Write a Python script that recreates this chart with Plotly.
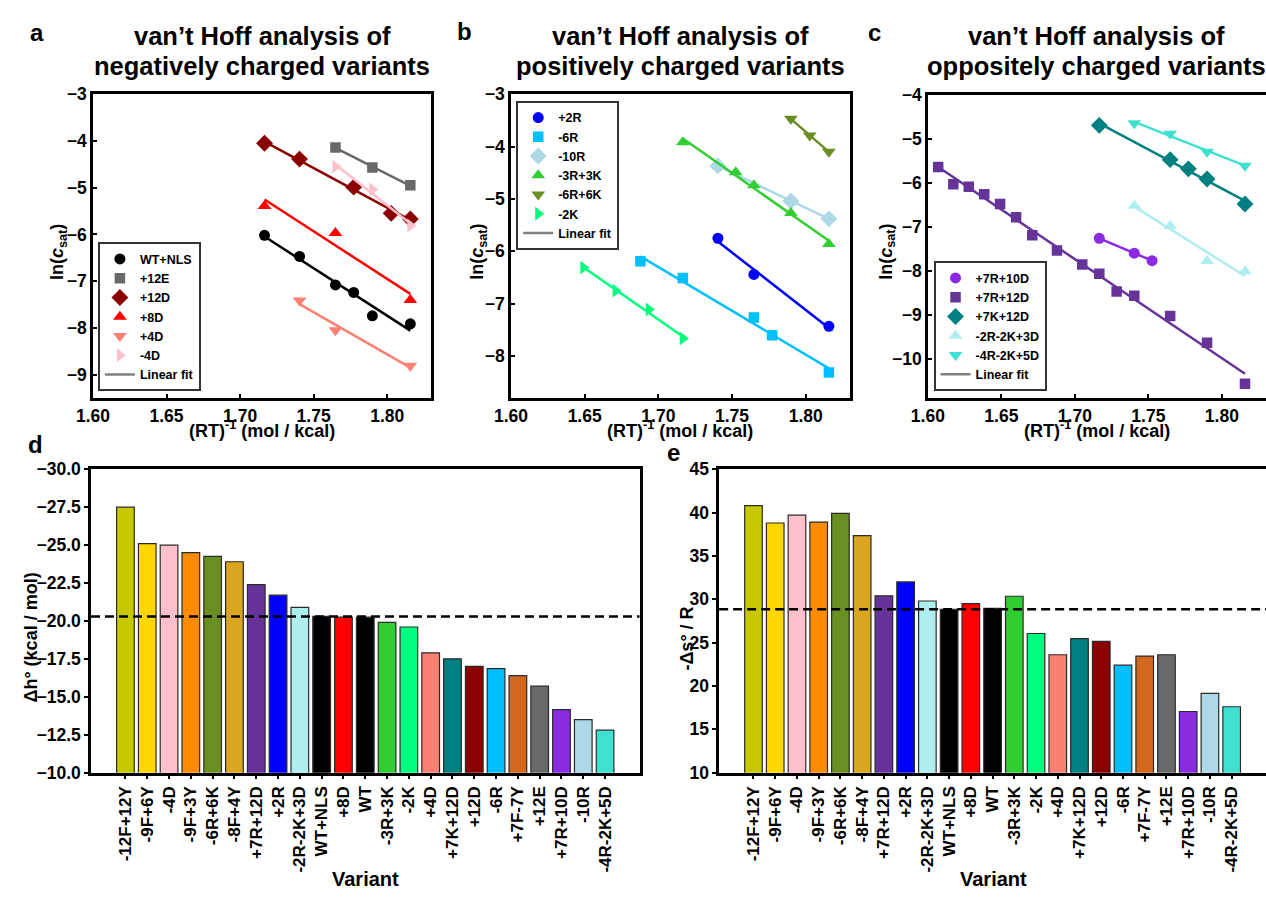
import numpy as np
import plotly.graph_objects as go

# ------------------------------------------------------------------ data
# Panel a: negatively charged variants  (x = 1/RT in mol/kcal, y = ln c_sat)
a_names = ["WT+NLS", "+12E", "+12D", "+8D", "+4D", "-4D"]
a_x = {
    "WT+NLS": [1.7166, 1.7404, 1.7648, 1.7772, 1.7899, 1.8157],
    "+12E": [1.7648, 1.7899, 1.8157],
    "+12D": [1.7166, 1.7404, 1.7772, 1.8027, 1.8157],
    "+8D": [1.7166, 1.7648, 1.8157],
    "+4D": [1.7404, 1.7648, 1.8157],
    "-4D": [1.7648, 1.7899, 1.8157],
}
a_y = {
    "WT+NLS": [-6.02, -6.47, -7.08, -7.24, -7.74, -7.91],
    "+12E": [-4.14, -4.57, -4.95],
    "+12D": [-4.05, -4.39, -4.99, -5.55, -5.67],
    "+8D": [-5.39, -5.97, -7.40],
    "+4D": [-7.41, -8.05, -8.81],
    "-4D": [-4.55, -5.04, -5.81],
}

# Panel b: positively charged variants
b_names = ["+2R", "-6R", "-10R", "-3R+3K", "-6R+6K", "-2K"]
b_x = {
    "+2R": [1.7404, 1.7648, 1.8157],
    "-6R": [1.6878, 1.7166, 1.7648, 1.7772, 1.8157],
    "-10R": [1.7404, 1.7899, 1.8157],
    "-3R+3K": [1.7166, 1.7525, 1.7648, 1.7899, 1.8157],
    "-6R+6K": [1.7899, 1.8027, 1.8157],
    "-2K": [1.6491, 1.6710, 1.6935, 1.7166],
}
b_y = {
    "+2R": [-5.75, -6.44, -7.43],
    "-6R": [-6.19, -6.51, -7.26, -7.60, -8.31],
    "-10R": [-4.37, -5.04, -5.38],
    "-3R+3K": [-3.92, -4.49, -4.74, -5.27, -5.86],
    "-6R+6K": [-3.47, -3.79, -4.10],
    "-2K": [-6.31, -6.75, -7.11, -7.66],
}

# Panel c: oppositely charged variants
c_names = ["+7R+10D", "+7R+12D", "+7K+12D", "-2R-2K+3D", "-4R-2K+5D"]
c_x = {
    "+7R+10D": [1.7166, 1.7404, 1.7525],
    "+7R+12D": [1.6070, 1.6173, 1.6278, 1.6383, 1.6491, 1.6600, 1.6710, 1.6878,
                1.7050, 1.7166, 1.7284, 1.7404, 1.7648, 1.7899, 1.8157],
    "+7K+12D": [1.7166, 1.7648, 1.7772, 1.7899, 1.8157],
    "-2R-2K+3D": [1.7404, 1.7648, 1.7899, 1.8157],
    "-4R-2K+5D": [1.7404, 1.7648, 1.7899, 1.8157],
}
c_y = {
    "+7R+10D": [-7.26, -7.60, -7.77],
    "+7R+12D": [-5.64, -6.03, -6.09, -6.26, -6.48, -6.78, -7.19, -7.54,
                -7.86, -8.07, -8.47, -8.57, -9.03, -9.64, -10.57],
    "+7K+12D": [-4.69, -5.47, -5.68, -5.91, -6.48],
    "-2R-2K+3D": [-6.52, -6.98, -7.78, -8.01],
    "-4R-2K+5D": [-4.64, -4.88, -5.29, -5.61],
}

# Panels d / e: thermodynamic parameters per variant
variants = ["-12F+12Y", "-9F+6Y", "-4D", "-9F+3Y", "-6R+6K", "-8F+4Y", "+7R+12D", "+2R",
            "-2R-2K+3D", "WT+NLS", "+8D", "WT", "-3R+3K", "-2K", "+4D", "+7K+12D",
            "+12D", "-6R", "+7F-7Y", "+12E", "+7R+10D", "-10R", "-4R-2K+5D"]
dh = [-27.5, -25.1, -25.0, -24.5, -24.25, -23.9, -22.4, -21.7, -20.9, -20.3, -20.25,
      -20.25, -19.9, -19.6, -17.9, -17.5, -17.0, -16.85, -16.4, -15.7, -14.15, -13.5, -12.8]
neg_ds = [40.8, 38.8, 39.7, 38.9, 39.9, 37.35, 30.4, 32.0, 29.8, 28.85, 29.5, 28.95,
          30.35, 26.05, 23.6, 25.45, 25.15, 22.4, 23.45, 23.6, 17.05, 19.15, 17.6]
reference_variant = "WT+NLS"

# ------------------------------------------------------------------ styles
COLORS = {
    "WT+NLS": "#000000", "WT": "#000000", "+12E": "#696969", "+12D": "#8B0000",
    "+8D": "#FF0000", "+4D": "#FA8072", "-4D": "#FFC0CB",
    "+2R": "#0000FF", "-6R": "#00BFFF", "-10R": "#ADD8E6", "-3R+3K": "#32CD32",
    "-6R+6K": "#6B8E23", "-2K": "#00FF7F",
    "+7R+10D": "#8A2BE2", "+7R+12D": "#663399", "+7K+12D": "#008080",
    "-2R-2K+3D": "#AFEEEE", "-4R-2K+5D": "#40E0D0",
    "-12F+12Y": "#C8C800", "-9F+6Y": "#FFD700", "-9F+3Y": "#FF8C00",
    "-8F+4Y": "#DAA520", "+7F-7Y": "#D2691E",
}
SYMBOLS = ["circle", "square", "diamond", "triangle-up", "triangle-down", "triangle-right"]
SIZES = {"circle": 11, "square": 10.5, "diamond": 13, "triangle-up": 12,
         "triangle-down": 12, "triangle-right": 12}

W, H = 1266, 898
FONT = "Liberation Sans, Arial, sans-serif"


def fx(p):
    return p / W


def fy(p):
    return 1 - p / H


fig = go.Figure()


def add_scatter_panel(names, xs, ys, ax, legend):
    xa = "x" if ax == 1 else f"x{ax}"
    ya = "y" if ax == 1 else f"y{ax}"
    for i, n in enumerate(names):
        sym = SYMBOLS[i]
        fig.add_trace(go.Scatter(
            x=xs[n], y=ys[n], mode="markers", name=n, legend=legend,
            xaxis=xa, yaxis=ya,
            marker=dict(color=COLORS[n], symbol=sym, size=SIZES[sym], line=dict(width=0)),
        ))
        k, b = np.polyfit(xs[n], ys[n], 1)
        xx = np.array([min(xs[n]), max(xs[n])])
        fig.add_trace(go.Scatter(
            x=xx, y=k * xx + b, mode="lines", showlegend=False, xaxis=xa, yaxis=ya,
            line=dict(color=COLORS[n], width=2.5), hoverinfo="skip",
        ))
    fig.add_trace(go.Scatter(
        x=[None], y=[None], mode="lines", name="Linear fit", legend=legend,
        xaxis=xa, yaxis=ya, line=dict(color="#808080", width=2.5),
    ))


add_scatter_panel(a_names, a_x, a_y, 1, "legend")
add_scatter_panel(b_names, b_x, b_y, 2, "legend2")
add_scatter_panel(c_names, c_x, c_y, 3, "legend3")

bar_colors = [COLORS.get(v, "#000000") for v in variants]
for ax, vals in ((4, dh), (5, neg_ds)):
    fig.add_trace(go.Bar(
        x=variants, y=vals, xaxis=f"x{ax}", yaxis=f"y{ax}", showlegend=False,
        marker=dict(color=bar_colors, line=dict(color="#2b2b2b", width=1.2)),
    ))

ref_idx = variants.index(reference_variant)
for ax, vals in ((4, dh), (5, neg_ds)):
    fig.add_shape(type="line", xref=f"x{ax} domain", x0=0, x1=1,
                  yref=f"y{ax}", y0=vals[ref_idx], y1=vals[ref_idx],
                  line=dict(color="black", width=2.5, dash="9px,5px"))

tickfont = dict(family=FONT, size=17.5, color="black", weight="bold")

boxes = {
    1: (77, 420, 86, 397),
    2: (500.7, 844.3, 86, 397),
    3: (923.3, 1266, 87, 397),
    4: (75, 631, 469.7, 780),
    5: (711.7, 1266, 469.7, 780),
}
yranges = {1: [-9.5, -3], 2: [-8.8, -3], 3: [-10.9, -4]}

layout = dict(
    width=W, height=H, margin=dict(l=0, r=0, t=0, b=0),
    paper_bgcolor="white", plot_bgcolor="white", bargap=0.19,
    font=dict(family=FONT, color="black"),
)
for ax in (1, 2, 3, 4, 5):
    x0, x1, y0, y1 = boxes[ax]
    xk = "xaxis" if ax == 1 else f"xaxis{ax}"
    yk = "yaxis" if ax == 1 else f"yaxis{ax}"
    anchor_y = "y" if ax == 1 else f"y{ax}"
    anchor_x = "x" if ax == 1 else f"x{ax}"
    clipped = ax in (3, 5)
    common = dict(showline=True, linecolor="black", linewidth=2.5, showgrid=False,
                  zeroline=False, tickfont=tickfont, tickcolor="black", tickwidth=1.5,
                  ticklen=4)
    xd = dict(common, domain=[fx(x0), min(1.0, fx(x1))], anchor=anchor_y, mirror=True)
    yd = dict(common, domain=[fy(y1), fy(y0)], anchor=anchor_x, mirror=not clipped)
    if ax <= 3:
        xd.update(range=[1.60, 1.83], tick0=1.6, dtick=0.05, tickformat=".2f", ticks="inside")
        yd.update(range=yranges[ax], dtick=1, tick0=0, ticks="inside")
    else:
        xd.update(type="category", range=[-1.58, 23.58], ticks="outside", tickangle=-90,
                  tickfont=dict(tickfont, size=17))
        yd.update(ticks="outside")
        if ax == 4:
            yd.update(range=[-10, -30], dtick=2.5, tick0=0, tickformat=".1f")
        else:
            yd.update(range=[10, 45], dtick=5, tick0=0)
    layout[xk] = xd
    layout[yk] = yd

leg_common = dict(bgcolor="white", bordercolor="#333333", borderwidth=2,
                  font=dict(family=FONT, size=12.5, color="black", weight="bold"),
                  tracegroupgap=0, itemwidth=30)
layout["legend"] = dict(leg_common, x=fx(82), y=fy(390), xanchor="left", yanchor="bottom")
layout["legend2"] = dict(leg_common, x=fx(506), y=fy(93), xanchor="left", yanchor="top")
layout["legend3"] = dict(leg_common, x=fx(929), y=fy(390), xanchor="left", yanchor="bottom")
fig.update_layout(**layout)


def note(text, x, y, size, angle=0, xanchor="center"):
    fig.add_annotation(text=text, x=fx(x), y=fy(y), xref="paper", yref="paper",
                       showarrow=False, textangle=angle, xanchor=xanchor, yanchor="middle",
                       font=dict(family=FONT, size=size, color="black", weight="bold"))


titles = [("negatively charged variants", 248.5), ("positively charged variants", 672.5),
          ("oppositely charged variants", 1094.6)]
for t, cx in titles:
    note("van’t Hoff analysis of", cx, 27, 25.5)
    note(t, cx, 57, 25.5)
    note("(RT)<sup>-1</sup> (mol / kcal)", cx, 429, 18)
for cx in (42, 467.6, 882):
    note("ln(<i>c</i><sub>sat</sub>)", cx, 247, 18, angle=-90)

for letter, x, y in (("a", 20, 23), ("b", 454, 22), ("c", 869, 23), ("d", 19, 444), ("e", 665, 453)):
    note(letter, x, y, 24)

note("Δh° (kcal / mol)", 14, 642, 18, angle=-90)
note("-Δs° / R", 679, 643, 18, angle=-90)
note("Variant", 353, 889, 20)
note("Variant", 990, 889, 20)

fig.write_html("out.html")
